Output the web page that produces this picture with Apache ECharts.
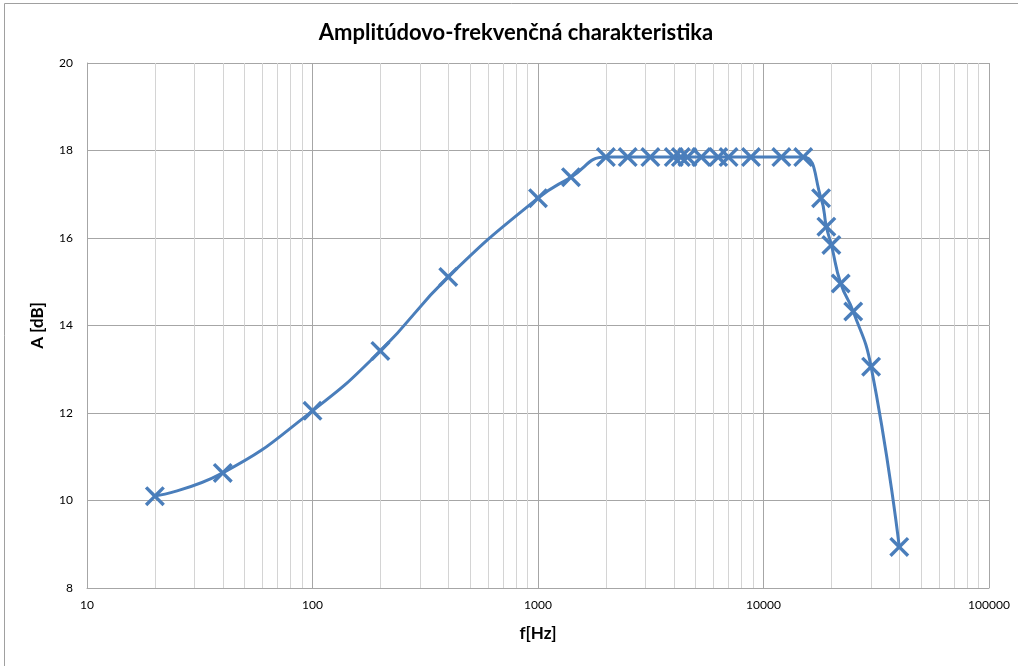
<!DOCTYPE html>
<html>
<head>
<meta charset="utf-8">
<script src="https://cdn.jsdelivr.net/npm/echarts@6/dist/echarts.min.js"></script>
<style>html,body{margin:0;padding:0;background:#fff}#c{width:1018px;height:666px}</style>
</head>
<body>
<div id="c"></div>
<script>
var title = 'Amplitúdovo-frekvenčná charakteristika';
var xName = 'f[Hz]';
var yName = 'A [dB]';
var freq = [20, 40, 100, 200, 400, 1000, 1400, 2000, 2500, 3150, 4000, 4300, 4600, 5300, 6300, 7000, 8800, 12000, 15000, 18000, 19000, 20000, 22000, 25000, 30000, 40000];
var amp = [10.1, 10.63, 12.05, 13.42, 15.11, 16.91, 17.39, 17.85, 17.85, 17.85, 17.85, 17.85, 17.85, 17.85, 17.85, 17.85, 17.85, 17.85, 17.85, 16.91, 16.26, 15.84, 14.96, 14.32, 13.06, 8.94];
var minorGrid = [20, 30, 40, 50, 60, 70, 80, 90, 200, 300, 400, 500, 600, 700, 800, 900, 2000, 3000, 4000, 5000, 6000, 7000, 8000, 9000, 20000, 30000, 40000, 50000, 60000, 70000, 80000, 90000];

var font = 'Lato, "Open Sans", sans-serif';
var blue = '#4a7ebb';
var t = 12;
var xPath = 'path://M0,' + t + 'L' + t + ',0L50,' + (50 - t) + 'L' + (100 - t) + ',0L100,' + t + 'L' + (50 + t) + ',50L100,' + (100 - t) + 'L' + (100 - t) + ',100L50,' + (50 + t) + 'L' + t + ',100L0,' + (100 - t) + 'L' + (50 - t) + ',50Z';

var chart = echarts.init(document.getElementById('c'), null, {renderer: 'canvas'});
chart.setOption({
  animation: false,
  backgroundColor: '#fff',
  graphic: [
    {type: 'rect', shape: {x: 4.5, y: 3.5, width: 1040, height: 700}, style: {fill: 'none', stroke: '#a0a0a0', lineWidth: 1}, z: -10, silent: true},
    {type: 'text', x: 516, y: 33, style: {text: title, textAlign: 'center', textVerticalAlign: 'middle', font: 'bold 22px ' + font, fill: '#000'}}
  ],
  grid: {left: 87, right: 29, top: 63, bottom: 78, containLabel: false},
  xAxis: {
    type: 'log', logBase: 10, min: 10, max: 100000,
    name: xName, nameLocation: 'middle', nameGap: 37,
    nameTextStyle: {fontFamily: font, fontWeight: 'bold', fontSize: 17, color: '#000'},
    axisLine: {show: true, lineStyle: {color: '#a6a6a6', width: 1}},
    axisTick: {show: false},
    axisLabel: {fontFamily: font, fontSize: 12, color: '#000', margin: 11, formatter: function (v) { return String(Math.round(v)); }},
    splitLine: {show: true, lineStyle: {color: '#a6a6a6', width: 1}}
  },
  yAxis: {
    type: 'value', min: 8, max: 20, interval: 2,
    name: yName, nameLocation: 'middle', nameGap: 41, nameRotate: 90,
    nameTextStyle: {fontFamily: font, fontWeight: 'bold', fontSize: 17, color: '#000'},
    axisLine: {show: true, lineStyle: {color: '#a6a6a6', width: 1}},
    axisTick: {show: false},
    axisLabel: {fontFamily: font, fontSize: 12, color: '#000', margin: 14},
    splitLine: {show: true, lineStyle: {color: '#a6a6a6', width: 1}}
  },
  series: [
    {
      type: 'line', data: [], z: 1, silent: true,
      markLine: {
        silent: true, symbol: 'none', label: {show: false}, animation: false,
        lineStyle: {color: '#d4d4d4', width: 1, type: 'solid'},
        data: minorGrid.map(function (v) { return {xAxis: v}; })
      }
    },
    {
      type: 'line', z: 5,
      data: freq.map(function (f, i) { return [f, amp[i]]; }),
      smooth: 0.5,
      symbol: xPath, symbolSize: 20,
      itemStyle: {color: blue},
      lineStyle: {color: blue, width: 3}
    }
  ]
});
</script>
</body>
</html>
